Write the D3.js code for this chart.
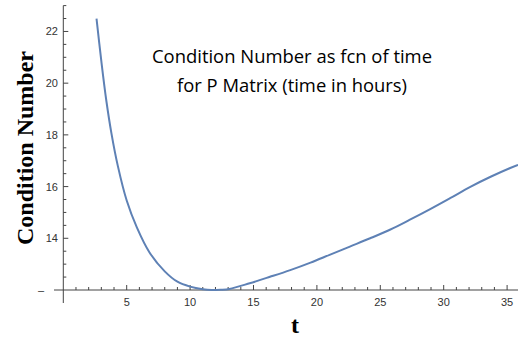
<!DOCTYPE html>
<html>
<head>
<meta charset="utf-8">
<script src="https://cdn.jsdelivr.net/npm/d3@7"></script>
<style>
  html, body { margin: 0; padding: 0; background: #fff; }
  svg { display: block; }
</style>
</head>
<body>
<svg id="chart" width="518" height="337"></svg>
<script>
// Condition number of the P matrix over time (hours)
const timeHours = [2.62, 3.0, 3.4, 3.8, 4.3, 5.0, 5.8, 6.8, 8.0, 9.0, 10.0, 11.0, 11.7, 12.4, 13.1, 14.7, 16.3, 17.9, 19.5, 21.0, 22.6, 24.2, 25.8, 27.3, 28.9, 30.5, 32.1, 33.7, 35.2, 35.86];
const conditionNumber = [22.5, 20.85, 19.3, 18.05, 16.8, 15.46, 14.42, 13.45, 12.72, 12.32, 12.13, 12.03, 12.0, 12.01, 12.04, 12.26, 12.51, 12.77, 13.06, 13.36, 13.68, 14.0, 14.34, 14.71, 15.12, 15.55, 15.99, 16.38, 16.71, 16.84];

const xTickValues = [5, 10, 15, 20, 25, 30, 35];
const yTickValues = [14, 16, 18, 20, 22];
const originLabel = "–";

const titleLines = ["Condition Number as fcn of time", "for P Matrix (time in hours)"];
const xLabel = "t";
const yLabel = "Condition Number";

const svg = d3.select("#chart");

const x = d3.scaleLinear().domain([0, 35.86]).range([63.3, 518]);
const y = d3.scaleLinear().domain([12, 23]).range([290, 5.6]);

const axisColor = "#444";
const labelColor = "#333";

// axes lines (crossing at the origin)
svg.append("line")
  .attr("x1", 54).attr("x2", 518)
  .attr("y1", y(12)).attr("y2", y(12))
  .attr("stroke", axisColor).attr("stroke-width", 1);
svg.append("line")
  .attr("x1", x(0)).attr("x2", x(0))
  .attr("y1", y(23)).attr("y2", 303)
  .attr("stroke", axisColor).attr("stroke-width", 1);

// x ticks: major every 5, minor every 1
const xMinor = d3.range(1, 36).filter(v => v % 5 !== 0);
svg.append("g").selectAll("line").data(xMinor).join("line")
  .attr("x1", d => x(d)).attr("x2", d => x(d))
  .attr("y1", y(12)).attr("y2", y(12) - 3)
  .attr("stroke", axisColor);
svg.append("g").selectAll("line").data(xTickValues).join("line")
  .attr("x1", d => x(d)).attr("x2", d => x(d))
  .attr("y1", y(12)).attr("y2", y(12) - 5)
  .attr("stroke", axisColor);
svg.append("g").selectAll("text").data(xTickValues).join("text")
  .attr("x", d => x(d)).attr("y", 306)
  .attr("text-anchor", "middle")
  .attr("font-family", "Liberation Sans, Arial, sans-serif")
  .attr("font-size", 11).attr("fill", labelColor)
  .text(d => d);

// y ticks: major every 2, minor every 0.5
const yMinor = d3.range(12.5, 23.01, 0.5).filter(v => !(v % 2 === 0));
svg.append("g").selectAll("line").data(yMinor).join("line")
  .attr("x1", x(0)).attr("x2", x(0) + 3)
  .attr("y1", d => y(d)).attr("y2", d => y(d))
  .attr("stroke", axisColor);
svg.append("g").selectAll("line").data(yTickValues).join("line")
  .attr("x1", x(0)).attr("x2", x(0) + 5)
  .attr("y1", d => y(d)).attr("y2", d => y(d))
  .attr("stroke", axisColor);
svg.append("g").selectAll("text").data(yTickValues).join("text")
  .attr("x", 58).attr("y", d => y(d) + 4)
  .attr("text-anchor", "end")
  .attr("font-family", "Liberation Sans, Arial, sans-serif")
  .attr("font-size", 11).attr("fill", labelColor)
  .text(d => d);
svg.append("text")
  .attr("x", 41).attr("y", y(12) + 4)
  .attr("text-anchor", "middle")
  .attr("font-family", "Liberation Sans, Arial, sans-serif")
  .attr("font-size", 11).attr("fill", labelColor)
  .text(originLabel);

// the curve
const points = timeHours.map((t, i) => [t, conditionNumber[i]]);
svg.append("path")
  .datum(points)
  .attr("fill", "none")
  .attr("stroke", "#5E81B5")
  .attr("stroke-width", 2)
  .attr("d", d3.line().x(d => x(d[0])).y(d => y(d[1])).curve(d3.curveCatmullRom.alpha(0.5)));

// title
svg.append("g").selectAll("text").data(titleLines).join("text")
  .attr("x", 292).attr("y", (d, i) => 63 + i * 29)
  .attr("text-anchor", "middle")
  .attr("font-family", "Open Sans, sans-serif")
  .attr("font-size", 18).attr("fill", "#000")
  .attr("textLength", (d, i) => i === 0 ? 280 : 230)
  .attr("lengthAdjust", "spacingAndGlyphs")
  .text(d => d);

// axis labels
svg.append("text")
  .attr("x", 295).attr("y", 333)
  .attr("text-anchor", "middle")
  .attr("font-family", "Liberation Serif, Times New Roman, serif")
  .attr("font-weight", "bold").attr("font-size", 24)
  .text(xLabel);
svg.append("text")
  .attr("transform", "translate(33,148) rotate(-90)")
  .attr("text-anchor", "middle")
  .attr("font-family", "Liberation Serif, Times New Roman, serif")
  .attr("font-weight", "bold").attr("font-size", 24)
  .text(yLabel);
</script>
</body>
</html>
